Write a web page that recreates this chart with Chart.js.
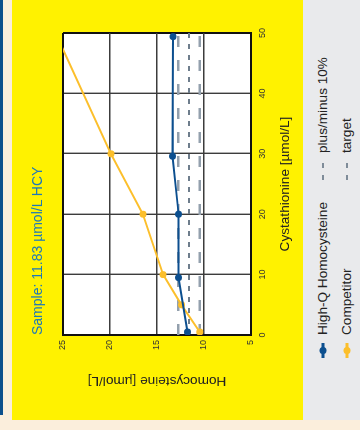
<!DOCTYPE html>
<html>
<head>
<meta charset="utf-8">
<script src="https://cdn.jsdelivr.net/npm/chart.js@4.4.0/dist/chart.umd.min.js"></script>
<style>
  html, body { margin: 0; padding: 0; width: 360px; height: 430px; overflow: hidden; background: #fbeedc; font-family: "Liberation Sans", Arial, sans-serif; }
  /* the whole card is laid out landscape and turned a quarter turn */
  #page { position: absolute; left: 0; top: 0; width: 430px; height: 360px; transform-origin: 0 0; transform: translateY(430px) rotate(-90deg); }
  #topline { position: absolute; left: 15px; top: 0; width: 415px; height: 3px; background: #0c4f8c; }
  #panel { position: absolute; left: 10px; top: 12px; width: 420px; height: 291px; background: #fff200; }
  #panel canvas { position: absolute; left: 0; top: 0; }
  #sample { position: absolute; left: 85px; top: 17px; font-size: 14px; line-height: 16px; color: #1f78b8; white-space: nowrap; }
  #legend { position: absolute; left: 10px; top: 303px; width: 420px; height: 57px; background: #e9eaec; }
  .item { position: absolute; font-size: 13.6px; line-height: 16px; color: #222; white-space: nowrap; }
  .item svg { position: absolute; top: 4px; }
</style>
</head>
<body>
<div id="page">
  <div id="topline"></div>
  <div id="panel">
    <canvas id="chart" width="420" height="291"></canvas>
    <div id="sample">Sample: 11.83 µmol/L HCY</div>
  </div>
  <div id="legend">
    <div class="item" style="left:62px; top:12px;">
      <svg width="16" height="8"><line x1="0" y1="4" x2="15" y2="4" stroke="#0c4f8f" stroke-width="3"/><circle cx="7.5" cy="4" r="3.5" fill="#0c4f8f"/></svg>
      <span style="margin-left:23px;">High-Q Homocysteine</span>
    </div>
    <div class="item" style="left:62px; top:36px;">
      <svg width="16" height="8"><line x1="0" y1="4" x2="15" y2="4" stroke="#fcbf2b" stroke-width="3"/><circle cx="7.5" cy="4" r="3.5" fill="#fcbf2b"/></svg>
      <span style="margin-left:23px;">Competitor</span>
    </div>
    <div class="item" style="left:240px; top:12px;">
      <svg width="20" height="8"><line x1="0" y1="4" x2="18" y2="4" stroke="#7f8c99" stroke-width="2" stroke-dasharray="5,7"/></svg>
      <span style="margin-left:27px;">plus/minus 10%</span>
    </div>
    <div class="item" style="left:240px; top:36px;">
      <svg width="20" height="8"><line x1="0" y1="4" x2="18" y2="4" stroke="#7f8c99" stroke-width="2" stroke-dasharray="5,7"/></svg>
      <span style="margin-left:27px;">target</span>
    </div>
  </div>
</div>
<script>
// Axis ticks
const cystTicks = [0, 10, 20, 30, 40, 50];
const homoTicks = [5, 10, 15, 20, 25];

// High-Q Homocysteine series (cystathionine added vs homocysteine found)
const highQCyst = [0.5, 9.5, 20, 29.6, 49.4];
const highQHomo = [11.75, 12.7, 12.7, 13.35, 13.3];

// Competitor series
const compCyst = [0.5, 5, 10, 20, 30, 50];
const compHomo = [10.45, 12.4, 14.35, 16.5, 19.9, 25.8];

// Target and +/-10% band
const bandCyst = [0, 50];
const targetHomo = 11.6;
const upperHomo = 12.75;
const lowerHomo = 10.45;

const toPoints = (xs, ys) => xs.map((x, i) => ({ x: x, y: ys[i] }));
const flat = (v) => bandCyst.map(x => ({ x: x, y: v }));

// white plot area on the yellow card
const plotBg = {
    id: 'plotBg',
    beforeDraw(chart) {
        const { ctx, chartArea: a } = chart;
        ctx.save();
        ctx.fillStyle = '#ffffff';
        ctx.fillRect(a.left, a.top, a.width, a.height);
        ctx.restore();
    }
};

const edgeWidth = (lo, hi) => c => (c.tick && (c.tick.value === lo || c.tick.value === hi)) ? 2 : 1.4;
const edgeColor = (lo, hi) => c => (c.tick && (c.tick.value === lo || c.tick.value === hi)) ? '#111' : '#3c3c3c';

new Chart(document.getElementById('chart').getContext('2d'), {
    type: 'line',
    data: {
        datasets: [
            {
                label: 'High-Q Homocysteine',
                data: toPoints(highQCyst, highQHomo),
                borderColor: '#0c4f8f',
                backgroundColor: '#0c4f8f',
                borderWidth: 2,
                pointRadius: 3.5,
                pointBorderWidth: 0,
                order: 0
            },
            {
                label: 'Competitor',
                data: toPoints(compCyst, compHomo),
                borderColor: '#fcbf2b',
                backgroundColor: '#fcbf2b',
                borderWidth: 2,
                pointRadius: 3.5,
                pointBorderWidth: 0,
                order: 1
            },
            {
                label: 'target',
                data: flat(targetHomo),
                borderColor: '#6e7d8c',
                borderWidth: 2,
                borderDash: [5, 6],
                pointRadius: 0,
                order: 2
            },
            {
                label: 'plus 10%',
                data: flat(upperHomo),
                borderColor: '#93a0ad',
                borderWidth: 2.5,
                borderDash: [11, 13],
                pointRadius: 0,
                order: 3
            },
            {
                label: 'minus 10%',
                data: flat(lowerHomo),
                borderColor: '#93a0ad',
                borderWidth: 2.5,
                borderDash: [11, 13],
                pointRadius: 0,
                order: 3
            }
        ]
    },
    options: {
        responsive: false,
        animation: false,
        devicePixelRatio: 1,
        layout: { padding: { left: 0, top: 51, right: 33, bottom: 0 } },
        plugins: {
            legend: { display: false },
            tooltip: { enabled: false }
        },
        scales: {
            x: {
                type: 'linear',
                min: 0,
                max: 50,
                afterBuildTicks: s => { s.ticks = cystTicks.map(v => ({ value: v })); },
                afterFit: s => { s.height = 52; },
                ticks: { font: { family: 'Liberation Sans', size: 9 }, color: '#333', padding: 6 },
                grid: { color: edgeColor(0, 50), lineWidth: edgeWidth(0, 50), drawTicks: false },
                border: { color: '#111', width: 2 },
                title: {
                    display: true,
                    text: 'Cystathionine [µmol/L]',
                    font: { family: 'Liberation Sans', size: 13.6 },
                    color: '#222',
                    padding: { top: 0, bottom: 10 }
                }
            },
            y: {
                type: 'linear',
                min: 5,
                max: 25,
                afterBuildTicks: s => { s.ticks = homoTicks.map(v => ({ value: v })); },
                afterFit: s => { s.width = 85; },
                ticks: { font: { family: 'Liberation Sans', size: 9 }, color: '#333', padding: 5 },
                grid: { color: edgeColor(5, 25), lineWidth: edgeWidth(5, 25), drawTicks: false },
                border: { color: '#111', width: 2 },
                title: {
                    display: true,
                    text: 'Homocysteine [µmol/L]',
                    font: { family: 'Liberation Sans', size: 13.6 },
                    color: '#222',
                    padding: { top: 31, bottom: 0 }
                }
            }
        }
    },
    plugins: [plotBg]
});
</script>
</body>
</html>
